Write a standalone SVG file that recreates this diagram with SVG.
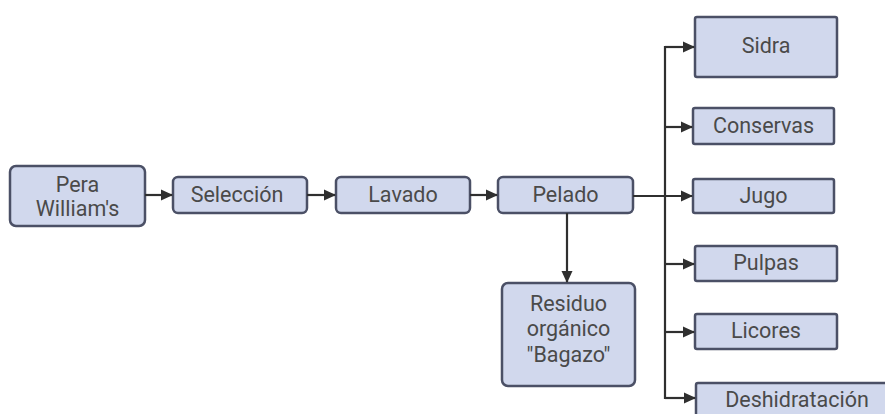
<svg xmlns="http://www.w3.org/2000/svg" width="885" height="414" viewBox="0 0 885 414">
<defs>
<marker id="ah" markerWidth="12" markerHeight="12" refX="11" refY="6" orient="auto" markerUnits="userSpaceOnUse">
<path d="M0,0.5 L12,6 L0,11.5 Z" fill="#2f2f2f"/>
</marker>
<style>
.box{fill:#d1d8ed;stroke:#4b5066;stroke-width:2.5}
.t{font-family:Roboto,"Liberation Sans",sans-serif;font-size:21.5px;fill:#4a4a4a;text-anchor:middle;dominant-baseline:central}
.c{fill:none;stroke:#2f2f2f;stroke-width:2.2}
</style>
</defs>
<rect width="885" height="414" fill="#ffffff"/>
<g id="pera"><rect class="box" x="10" y="166" width="135" height="60" rx="6"/><text class="t" x="77.5" y="184">Pera</text><text class="t" x="77.5" y="208">William's</text></g>
<g id="seleccion"><rect class="box" x="173" y="177" width="134" height="36" rx="5"/><text class="t" x="237" y="194">Selección</text></g>
<g id="lavado"><rect class="box" x="336" y="177" width="134" height="36" rx="5"/><text class="t" x="403" y="194">Lavado</text></g>
<g id="pelado"><rect class="box" x="498" y="177" width="135" height="36" rx="5"/><text class="t" x="565.5" y="194">Pelado</text></g>
<g id="residuo"><rect class="box" x="502" y="283" width="133" height="103" rx="6"/><text class="t" x="568.5" y="303">Residuo</text><text class="t" x="568.5" y="328">orgánico</text><text class="t" x="568.5" y="354">"Bagazo"</text></g>
<g id="sidra"><rect class="box" x="695" y="17" width="142" height="60" rx="2"/><text class="t" x="766" y="45">Sidra</text></g>
<g id="conservas"><rect class="box" x="693" y="108" width="141" height="36" rx="2"/><text class="t" x="763.5" y="125">Conservas</text></g>
<g id="jugo"><rect class="box" x="693" y="179" width="141" height="34" rx="2"/><text class="t" x="763.5" y="195">Jugo</text></g>
<g id="pulpas"><rect class="box" x="695" y="246" width="142" height="35" rx="2"/><text class="t" x="766" y="262">Pulpas</text></g>
<g id="licores"><rect class="box" x="695" y="314" width="142" height="35" rx="2"/><text class="t" x="766" y="330">Licores</text></g>
<g id="deshidratacion"><rect class="box" x="696" y="383" width="192" height="40" rx="2"/><text class="t" x="797" y="399">Deshidratación</text></g>
<g id="connectors">
<line class="c" x1="145" y1="195" x2="172" y2="195" marker-end="url(#ah)"/>
<line class="c" x1="307" y1="195" x2="335" y2="195" marker-end="url(#ah)"/>
<line class="c" x1="470" y1="195" x2="497" y2="195" marker-end="url(#ah)"/>
<line class="c" x1="567" y1="213" x2="567" y2="282" marker-end="url(#ah)"/>
<line class="c" x1="633" y1="196" x2="692" y2="196" marker-end="url(#ah)"/>
<line class="c" x1="665" y1="46" x2="665" y2="399"/>
<line class="c" x1="665" y1="47" x2="694" y2="47" marker-end="url(#ah)"/>
<line class="c" x1="665" y1="127" x2="692" y2="127" marker-end="url(#ah)"/>
<line class="c" x1="665" y1="264" x2="694" y2="264" marker-end="url(#ah)"/>
<line class="c" x1="665" y1="332" x2="694" y2="332" marker-end="url(#ah)"/>
<line class="c" x1="665" y1="398" x2="695" y2="398" marker-end="url(#ah)"/>
</g>
</svg>
